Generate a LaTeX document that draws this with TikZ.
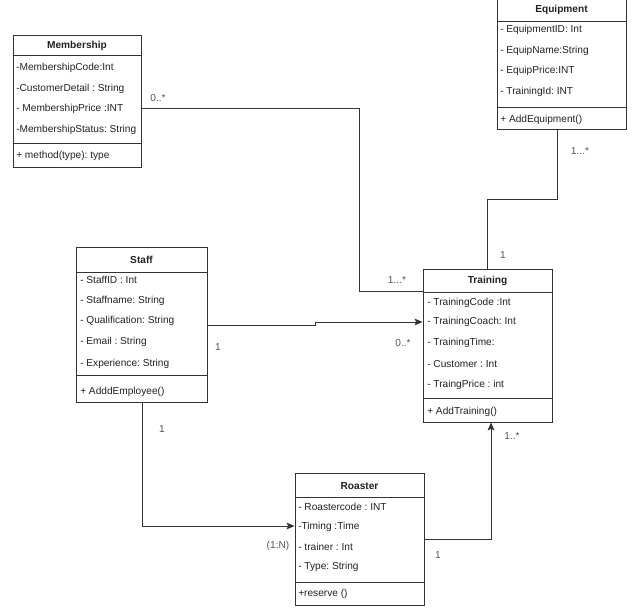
\documentclass[tikz,border=0pt]{standalone}
\usepackage{fontspec}
\setmainfont{Liberation Sans}
\frenchspacing
\usetikzlibrary{arrows.meta,fit,calc}
\definecolor{edge}{HTML}{333333}
\definecolor{lbl}{HTML}{555555}
\definecolor{txt}{HTML}{222222}
\tikzset{
  box/.style={draw=edge, line width=0.65pt, inner sep=0pt, fill=white},
  sep/.style={draw=edge, line width=0.65pt},
  title/.style={font=\fontsize{7.6pt}{8pt}\selectfont\bfseries, text=txt, inner sep=0pt},
  row/.style={font=\fontsize{7.6pt}{8pt}\selectfont, text=txt, anchor=west, inner sep=0pt},
  conn/.style={draw=edge, line width=0.65pt},
  arr/.style={-{Stealth[length=6pt,width=5pt,inset=1.2pt]}},
  mult/.style={font=\fontsize{7.6pt}{8pt}\selectfont, text=lbl, inner sep=0pt},
}
\begin{document}
\begin{tikzpicture}[x=0.75pt,y=-0.75pt]
\useasboundingbox (0,0) rectangle (638,610);

% Membership
\node[box, fit={(13,35) (141,167)}] (mem) {};
\draw[sep] (mem.west |- 0,55) -- (mem.east |- 0,55);
\draw[sep] (mem.west |- 0,143) -- (mem.east |- 0,143);
\node[title] (memt) at (77,46) {Membership};
\node[row] (mem1) at (16,68) {-MembershipCode:Int};
\node[row] (mem2) at (16,89) {-CustomerDetail : String};
\node[row] (mem3) at (16,109) {- MembershipPrice :INT};
\node[row] (mem4) at (16,130) {-MembershipStatus: String};
\node[row] (mem5) at (16,156) {+ method(type): type};

% Equipment
\node[box, fit={(497,-2) (626,129)}] (eqp) {};
\draw[sep] (eqp.west |- 0,21) -- (eqp.east |- 0,21);
\draw[sep] (eqp.west |- 0,107) -- (eqp.east |- 0,107);
\node[title] (eqpt) at (561.5,10) {Equipment};
\node[row] (eqp1) at (500,30) {- EquipmentID: Int};
\node[row] (eqp2) at (500,51) {- EquipName:String};
\node[row] (eqp3) at (500,71) {- EquipPrice:INT};
\node[row] (eqp4) at (500,92) {- TrainingId: INT};
\node[row] (eqp5) at (500,120) {+ AddEquipment()};

% Staff
\node[box, fit={(76,247) (207,402)}] (stf) {};
\draw[sep] (stf.west |- 0,272) -- (stf.east |- 0,272);
\draw[sep] (stf.west |- 0,375) -- (stf.east |- 0,375);
\node[title] (stft) at (141.5,260) {Staff};
\node[row] (stf1) at (80,280) {- StaffID : Int};
\node[row] (stf2) at (80,301) {- Staffname: String};
\node[row] (stf3) at (80,321) {- Qualification: String};
\node[row] (stf4) at (80,342) {- Email : String};
\node[row] (stf5) at (80,364) {- Experience: String};
\node[row] (stf6) at (80,392) {+ AdddEmployee()};

% Training
\node[box, fit={(423,269) (552,422)}] (trn) {};
\draw[sep] (trn.west |- 0,292) -- (trn.east |- 0,292);
\draw[sep] (trn.west |- 0,398) -- (trn.east |- 0,398);
\node[title] (trnt) at (487.5,281) {Training};
\node[row] (trn1) at (427,303) {- TrainingCode :Int};
\node[row] (trn2) at (427,322) {- TrainingCoach: Int};
\node[row] (trn3) at (427,343) {- TrainingTime:};
\node[row] (trn4) at (427,364) {- Customer : Int};
\node[row] (trn5) at (427,385) {- TraingPrice : int};
\node[row] (trn6) at (427,412) {+ AddTraining()};

% Roaster
\node[box, fit={(295,473) (424,605)}] (rst) {};
\draw[sep] (rst.west |- 0,497) -- (rst.east |- 0,497);
\draw[sep] (rst.west |- 0,582) -- (rst.east |- 0,582);
\node[title] (rstt) at (359.5,486) {Roaster};
\node[row] (rst1) at (298,507) {- Roastercode : INT};
\node[row] (rst2) at (298,527) {-Timing :Time};
\node[row] (rst3) at (298,547) {- trainer : Int};
\node[row] (rst4) at (298,567) {- Type: String};
\node[row] (rst5) at (298,594) {+reserve ()};

% Connectors
\draw[conn] (mem.east |- 0,108) -- (359,108) -- (359,291) -- (trn.west |- 0,291);
\draw[conn,arr] (stf.east |- 0,325) -- (315,325) -- (315,322) -- (trn.west |- 0,322);
\draw[conn,arr] (stf.south -| 142,0) -- (142,526) -- (rst.west |- 0,526);
\draw[conn,arr] (rst.east |- 0,539) -- (491,539) -- (trn.south -| 491,0);
\draw[conn] (eqp.south -| 557,0) -- (557,199) -- (487,199) -- (trn.north -| 487,0);

% Multiplicities
\node[mult] (m1) at (158,98) {0..*};
\node[mult] (m2) at (397,280) {1...*};
\node[mult] (m3) at (218,347) {1};
\node[mult] (m4) at (403,343) {0..*};
\node[mult] (m5) at (162,429) {1};
\node[mult] (m6) at (278,546) {(1:N)};
\node[mult] (m7) at (438,555) {1};
\node[mult] (m8) at (512,436) {1..*};
\node[mult] (m9) at (580,151) {1...*};
\node[mult] (m10) at (503,255) {1};
\end{tikzpicture}
\end{document}
